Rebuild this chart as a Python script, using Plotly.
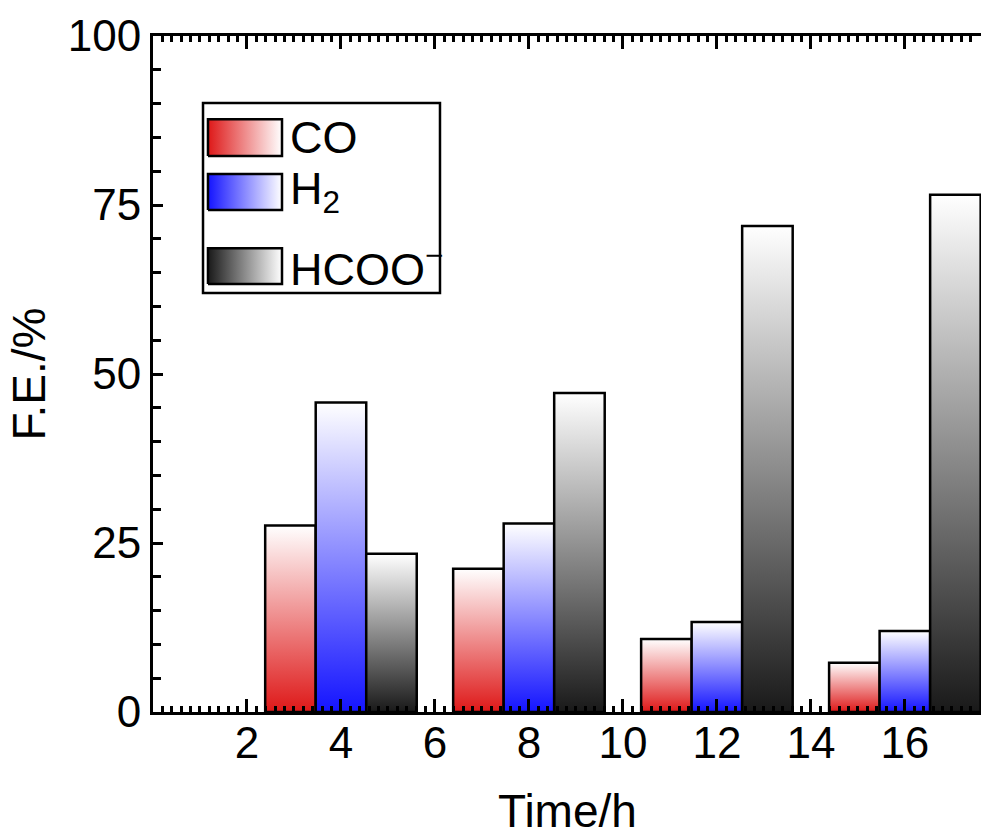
import plotly.graph_objects as go

# ---- data ----
times = [4, 8, 12, 16]
co_fe = [27.6, 21.2, 10.8, 7.3]
h2_fe = [45.8, 27.9, 13.3, 12.0]
hcoo_fe = [23.4, 47.2, 71.9, 76.5]
series_names = ["CO", "H<sub>2</sub>", "HCOO<sup>−</sup>"]
series_values = [co_fe, h2_fe, hcoo_fe]
x_tick_vals = [2, 4, 6, 8, 10, 12, 14, 16]
y_tick_vals = [0, 25, 50, 75, 100]
x_title = "Time/h"
y_title = "F.E./%"

# ---- style ----
base_colors = ["rgb(222,24,24)", "rgb(20,20,255)", "rgb(25,25,25)"]
bar_w = 1.075
offsets = [-1, 0, 1]
FONT = "Liberation Sans, Arial, sans-serif"

fig = go.Figure()

for name, vals, col, off in zip(series_names, series_values, base_colors, offsets):
    for t, v in zip(times, vals):
        c = t + off * bar_w
        x0, x1 = c - bar_w / 2, c + bar_w / 2
        fig.add_trace(go.Scatter(
            x=[x0, x0, x1, x1, x0], y=[0, v, v, 0, 0],
            mode="lines", fill="toself",
            fillgradient=dict(type="vertical",
                              colorscale=[[0, col], [1, "rgb(255,255,255)"]]),
            line=dict(color="black", width=2.5),
            showlegend=False, hoverinfo="skip",
        ))

# ---- custom legend (in plot-area fraction coords on overlay axes) ----
sw_x0, sw_x1 = 0.0664, 0.1558
rows = [(0.8225, 0.877), (0.7426, 0.796), (0.633, 0.686)]
for (y0, y1), col, name in zip(rows, base_colors, series_names):
    fig.add_trace(go.Scatter(
        x=[sw_x0, sw_x0, sw_x1, sw_x1, sw_x0], y=[y0, y1, y1, y0, y0],
        xaxis="x2", yaxis="y2", mode="lines", fill="toself",
        fillgradient=dict(type="horizontal",
                          colorscale=[[0, col], [1, "rgb(255,255,255)"]]),
        line=dict(color="black", width=2.5),
        showlegend=False, hoverinfo="skip",
    ))
    fig.add_annotation(x=0.163, y=(y0 + y1) / 2, xref="paper", yref="paper",
                       text=name, showarrow=False, xanchor="left", yanchor="middle",
                       font=dict(family=FONT, size=45, color="black"))

fig.add_shape(type="rect", xref="paper", yref="paper",
              x0=0.0604, x1=0.3466, y0=0.6198, y1=0.9009,
              line=dict(color="black", width=2.5), fillcolor="rgba(0,0,0,0)")

# x-axis title as annotation so it can sit close to the bottom edge
fig.add_annotation(x=0.5, y=0, xref="paper", yref="paper", yanchor="top",
                   yshift=-71, text=x_title, showarrow=False,
                   font=dict(family=FONT, size=46, color="black"))

fig.update_layout(
    width=981, height=835,
    margin=dict(l=153, r=0, t=36, b=123, autoexpand=False),
    plot_bgcolor="white", paper_bgcolor="white",
    font=dict(family=FONT, color="black"),
    showlegend=False,
    xaxis=dict(
        range=[0, 17.62], tickvals=x_tick_vals, automargin=False,
        layer="above traces",
        showline=True, linecolor="black", linewidth=3, mirror="allticks",
        ticks="inside", ticklen=13, tickwidth=3, tickcolor="black",
        minor=dict(dtick=0.2, tick0=0, ticks="inside", ticklen=6, tickwidth=2.5, tickcolor="black"),
        showgrid=False, zeroline=False,
        tickfont=dict(family=FONT, size=44, color="black"),
        ticklabelstandoff=-10,
    ),
    yaxis=dict(
        range=[0, 100], tickvals=y_tick_vals, automargin=False,
        layer="above traces",
        showline=True, linecolor="black", linewidth=3, mirror=False,
        ticks="inside", ticklen=10, tickwidth=3, tickcolor="black",
        minor=dict(dtick=5, tick0=0, ticks="inside", ticklen=8, tickwidth=2.5, tickcolor="black"),
        showgrid=False, zeroline=False,
        tickfont=dict(family=FONT, size=44, color="black"),
        title=dict(text=y_title, font=dict(family=FONT, size=46, color="black"), standoff=8),
    ),
    xaxis2=dict(overlaying="x", range=[0, 1], visible=False, fixedrange=True),
    yaxis2=dict(overlaying="y", range=[0, 1], visible=False, fixedrange=True),
)

fig.write_html("out.html",
               config={"displayModeBar": False},
               post_script="document.body.style.margin='0';document.body.style.overflow='hidden';")
